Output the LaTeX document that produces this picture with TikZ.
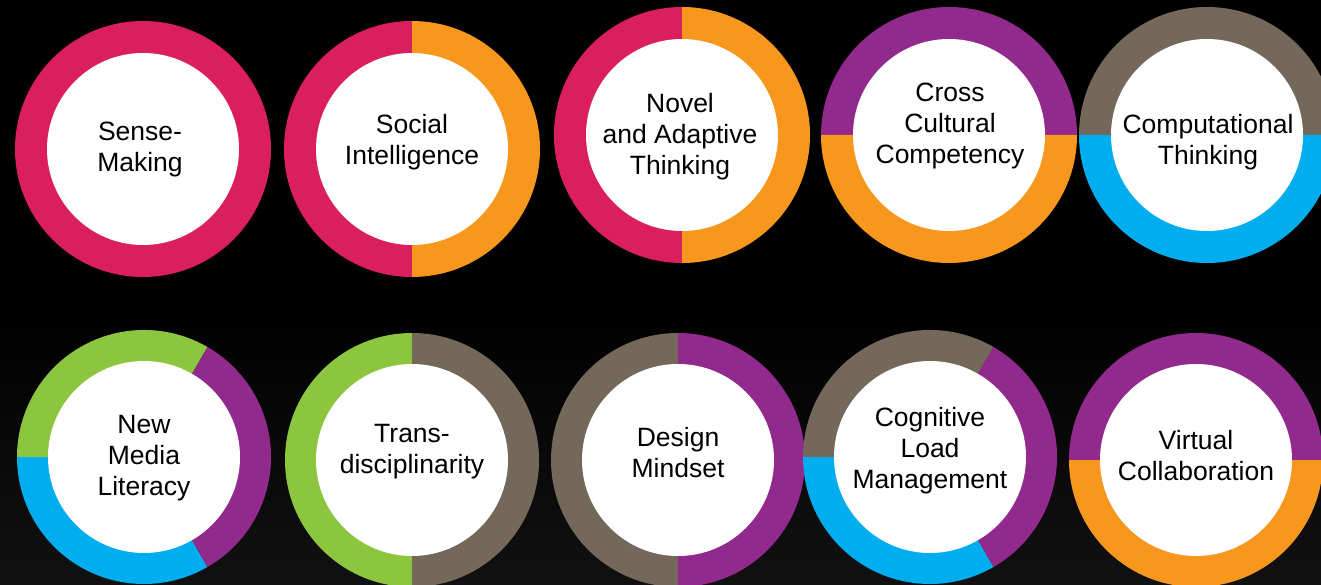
\documentclass[tikz,border=0pt]{standalone}
\usepackage{fontspec}
\setmainfont{Liberation Sans}
\definecolor{cpink}{HTML}{DB1F5E}
\definecolor{corange}{HTML}{F8971D}
\definecolor{cpurple}{HTML}{92298D}
\definecolor{cbrown}{HTML}{736859}
\definecolor{cblue}{HTML}{00AEEF}
\definecolor{cgreen}{HTML}{8CC63F}
\definecolor{cfloor}{HTML}{111111}
\tikzset{
  x=1pt,y=1pt,
  hole/.style={circle,fill=white,inner sep=0pt,outer sep=0pt,minimum size=#1},
  hole/.default=192pt,
  lbl/.style={align=center,font=\fontsize{26.5}{31}\selectfont,text=black,inner sep=0pt}
}
% sector: centre, radius, start, end, colour
\newcommand{\ringsector}[5]{\fill[#5] (#1) -- ++(#3:#2) arc[start angle=#3,end angle=#4,radius=#2] -- cycle;}
\begin{document}
\begin{tikzpicture}
\useasboundingbox (0,0) rectangle (1321,584);
\clip (0,0) rectangle (1321,584);
\fill[black] (0,0) rectangle (1321,584);
\shade[bottom color=cfloor,top color=black] (0,0) rectangle (1321,280);

% row 1
\coordinate (c1) at (143,435);
\ringsector{c1}{128}{0}{360}{cpink}
\node[hole] (h1) at (c1) {};
\node[lbl] (t1) at (140,434) {Sense-\\Making};

\coordinate (c2) at (412,435);
\ringsector{c2}{128}{90}{270}{cpink}
\ringsector{c2}{128}{-90}{90}{corange}
\node[hole] (h2) at (c2) {};
\node[lbl] (t2) at (412,442) {Social\\Intelligence};

\coordinate (c3) at (682,449);
\ringsector{c3}{128}{90}{270}{cpink}
\ringsector{c3}{128}{-90}{90}{corange}
\node[hole] (h3) at (c3) {};
\node[lbl] (t3) at (680,447) {Novel\\and Adaptive\\Thinking};

\coordinate (c4) at (949,449);
\ringsector{c4}{128}{0}{180}{cpurple}
\ringsector{c4}{128}{180}{360}{corange}
\node[hole] (h4) at (c4) {};
\node[lbl] (t4) at (950,458) {Cross\\Cultural\\Competency};

\coordinate (c5) at (1207,449);
\ringsector{c5}{128}{0}{180}{cbrown}
\ringsector{c5}{128}{180}{360}{cblue}
\node[hole] (h5) at (c5) {};
\node[lbl] (t5) at (1208,442) {Computational\\Thinking};

% row 2
\coordinate (c6) at (144,127);
\ringsector{c6}{127}{60}{180}{cgreen}
\ringsector{c6}{127}{180}{300}{cblue}
\ringsector{c6}{127}{-60}{60}{cpurple}
\node[hole] (h6) at (c6) {};
\node[lbl] (t6) at (144,126) {New\\Media\\Literacy};

\coordinate (c7) at (412,124);
\ringsector{c7}{127}{90}{270}{cgreen}
\ringsector{c7}{127}{-90}{90}{cbrown}
\node[hole] (h7) at (c7) {};
\node[lbl] (t7) at (412,132) {Trans-\\disciplinarity};

\coordinate (c8) at (678,124);
\ringsector{c8}{127}{90}{270}{cbrown}
\ringsector{c8}{127}{-90}{90}{cpurple}
\node[hole] (h8) at (c8) {};
\node[lbl] (t8) at (678,131) {Design\\Mindset};

\coordinate (c9) at (930,127);
\ringsector{c9}{127}{60}{180}{cbrown}
\ringsector{c9}{127}{180}{300}{cblue}
\ringsector{c9}{127}{-60}{60}{cpurple}
\node[hole] (h9) at (c9) {};
\node[lbl] (t9) at (930,133) {Cognitive\\Load\\Management};

\coordinate (c10) at (1196,124);
\ringsector{c10}{127}{0}{180}{cpurple}
\ringsector{c10}{127}{180}{360}{corange}
\node[hole] (h10) at (c10) {};
\node[lbl] (t10) at (1196,128) {Virtual\\Collaboration};
\end{tikzpicture}
\end{document}
